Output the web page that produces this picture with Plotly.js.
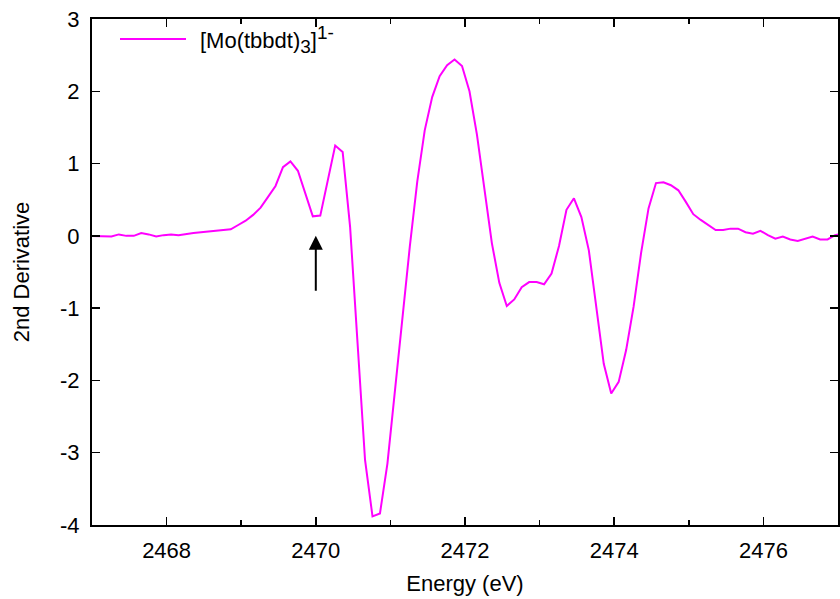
<!DOCTYPE html>
<html>
<head>
<meta charset="utf-8">
<script src="https://cdn.plot.ly/plotly-3.0.1.min.js"></script>
<style>html,body{margin:0;padding:0;background:#fff;}#chart{width:840px;height:599px;}</style>
</head>
<body>
<div id="chart"></div>
<script>
var energy = [2466.96,2467.06,2467.16,2467.26,2467.36,2467.46,2467.56,2467.66,2467.76,2467.86,
2467.96,2468.06,2468.16,2468.26,2468.36,2468.46,2468.56,2468.66,2468.76,2468.86,
2468.96,2469.06,2469.16,2469.26,2469.36,2469.46,2469.56,2469.66,2469.76,2469.86,
2469.96,2470.06,2470.16,2470.26,2470.36,2470.46,2470.56,2470.66,2470.76,2470.86,
2470.96,2471.06,2471.16,2471.26,2471.36,2471.46,2471.56,2471.66,2471.76,2471.86,
2471.96,2472.06,2472.16,2472.26,2472.36,2472.46,2472.56,2472.66,2472.76,2472.86,
2472.96,2473.06,2473.16,2473.26,2473.36,2473.46,2473.56,2473.66,2473.76,2473.86,
2473.96,2474.06,2474.16,2474.26,2474.36,2474.46,2474.56,2474.66,2474.76,2474.86,
2474.96,2475.06,2475.16,2475.26,2475.36,2475.46,2475.56,2475.66,2475.76,2475.86,
2475.96,2476.06,2476.16,2476.26,2476.36,2476.46,2476.56,2476.66,2476.76,2476.86,
2476.96,2477.06];
var deriv2 = [0.00,-0.005,-0.01,-0.01,0.02,0.00,0.00,0.04,0.02,-0.01,
0.01,0.02,0.01,0.03,0.04,0.05,0.06,0.07,0.08,0.09,
0.15,0.21,0.29,0.39,0.54,0.69,0.95,1.03,0.90,0.59,
0.27,0.28,0.77,1.25,1.16,0.12,-1.49,-3.10,-3.88,-3.84,
-3.15,-2.13,-1.12,-0.15,0.75,1.46,1.92,2.21,2.36,2.44,
2.35,2.00,1.40,0.66,-0.10,-0.65,-0.97,-0.88,-0.71,-0.64,
-0.64,-0.67,-0.52,-0.14,0.36,0.52,0.26,-0.20,-0.96,-1.77,
-2.18,-2.02,-1.58,-0.98,-0.24,0.38,0.73,0.74,0.70,0.63,
0.47,0.30,0.22,0.15,0.08,0.08,0.10,0.10,0.05,0.03,
0.07,0.01,-0.04,-0.01,-0.05,-0.07,-0.04,-0.01,-0.05,-0.05,
0.01,0.03];
var xTicks = [2468,2470,2472,2474,2476];
var yTicks = [-4,-3,-2,-1,0,1,2,3];
var seriesName = '[Mo(tbbdt)<sub><span style="font-size:19px">3</span></sub>]<sup><span style="font-size:19px">1-</span></sup>';
var arrowX = 2470, arrowHeadY = 0.0, arrowTailY = -0.78;

var font = 'Liberation Sans, Arial, Helvetica, sans-serif';
var PW = 746, PH = 506;
var trace = {
  x: energy, y: deriv2, type: 'scatter', mode: 'lines',
  name: '[Mo(tbbdt)<sub>3</sub>]<sup>1-</sup>',
  line: {color: '#ff00ff', width: 2},
  showlegend: false
};
var axisCommon = {
  showline: true, mirror: 'allticks', linecolor: '#000', linewidth: 2,
  ticks: 'inside', ticklen: 8, tickwidth: 1.5, tickcolor: '#000',
  showgrid: false, zeroline: false,
  tickfont: {family: font, size: 22, color: '#000'}
};
var layout = {
  width: 840, height: 599,
  margin: {l: 92, r: 2, t: 19, b: 74},
  paper_bgcolor: '#fff', plot_bgcolor: '#fff',
  font: {family: font, color: '#000'},
  xaxis: Object.assign({}, axisCommon, {
    range: [2467, 2477], tickvals: xTicks, ticktext: xTicks.map(String),
    ticklabelstandoff: 5,
    minor: {dtick: 1, tick0: 2467, ticks: 'inside', ticklen: 5, tickwidth: 1.5, tickcolor: '#000', showgrid: false},
    title: {text: 'Energy (eV)', font: {family: font, size: 22}, standoff: 13}
  }),
  yaxis: Object.assign({}, axisCommon, {
    range: [-4, 3], tickvals: yTicks, ticktext: yTicks.map(String),
    ticklabelstandoff: 6,
    title: {text: '2nd Derivative', font: {family: font, size: 22}, standoff: 24}
  }),
  shapes: [
    {type: 'line', xref: 'paper', yref: 'paper', x0: 28/PW, x1: 94/PW, y0: 1 - 20/PH, y1: 1 - 20/PH,
     line: {color: '#ff00ff', width: 2}}
  ],
  annotations: [
    {xref: 'paper', yref: 'paper', x: 106/PW, y: 1 - 20/PH, xanchor: 'left', yanchor: 'middle',
     text: seriesName, showarrow: false, font: {family: font, size: 22, color: '#000'}},
    {x: arrowX, y: arrowHeadY, ax: arrowX, ay: arrowTailY, axref: 'x', ayref: 'y', xref: 'x', yref: 'y',
     text: '', showarrow: true, arrowhead: 2, arrowsize: 1.4, arrowwidth: 2, arrowcolor: '#000'}
  ]
};
Plotly.newPlot('chart', [trace], layout, {displayModeBar: false, staticPlot: true});
</script>
</body>
</html>
